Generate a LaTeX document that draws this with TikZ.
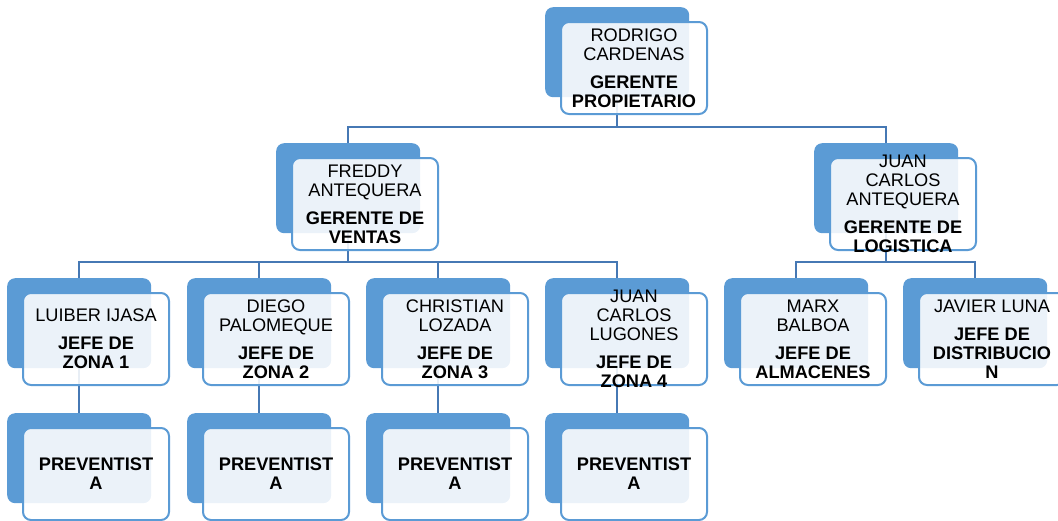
\documentclass[tikz,border=0pt]{standalone}
\usepackage{fontspec}
\setmainfont{Liberation Sans}
\usetikzlibrary{calc}
\definecolor{accent}{RGB}{91,155,213}
\definecolor{connc}{RGB}{70,120,180}
\tikzset{
  backbox/.style={draw=none, fill=accent, rounded corners=8pt, minimum width=144pt, minimum height=90pt, anchor=north west, inner sep=0pt},
  frontbox/.style={draw=accent, line width=2pt, fill=white, fill opacity=0.88, rounded corners=8pt, minimum width=146pt, minimum height=92pt, anchor=north west, inner sep=0pt},
  lbl/.style={align=center, font=\fontsize{18.2}{19}\selectfont, inner sep=0pt, text=black},
  conn/.style={draw=connc, line width=2pt},
}
\begin{document}
\begin{tikzpicture}[x=1pt,y=-1pt]
\useasboundingbox (0,0) rectangle (1058,520);
\clip (0,0) rectangle (1058,520);
% back boxes
\node[backbox] (rb) at (545,7) {};
\node[backbox] (fb) at (276,143) {};
\node[backbox] (jb) at (814,143) {};
\node[backbox] (z1b) at (7,278) {};
\node[backbox] (z2b) at (187,278) {};
\node[backbox] (z3b) at (366,278) {};
\node[backbox] (z4b) at (545,278) {};
\node[backbox] (ab) at (724,278) {};
\node[backbox] (db) at (903,278) {};
\node[backbox] (p1b) at (7,413) {};
\node[backbox] (p2b) at (187,413) {};
\node[backbox] (p3b) at (366,413) {};
\node[backbox] (p4b) at (545,413) {};
% connectors
\draw[conn] (rb.south) -- ++(0,30) -| (fb.north);
\draw[conn] (rb.south) -- ++(0,30) -| (jb.north);
\draw[conn] (fb.south) -- ++(0,29) -| (z1b.north);
\draw[conn] (fb.south) -- ++(0,29) -| (z2b.north);
\draw[conn] (fb.south) -- ++(0,29) -| (z3b.north);
\draw[conn] (fb.south) -- ++(0,29) -| (z4b.north);
\draw[conn] (jb.south) -- ++(0,29) -| (ab.north);
\draw[conn] (jb.south) -- ++(0,29) -| (db.north);
\draw[conn] (z1b.south) -- (p1b.north);
\draw[conn] (z2b.south) -- (p2b.north);
\draw[conn] (z3b.south) -- (p3b.north);
\draw[conn] (z4b.south) -- (p4b.north);
% front boxes
\foreach \n in {r,f,j,z1,z2,z3,z4,a,d,p1,p2,p3,p4}{
  \node[frontbox] (\n f) at ($(\n b.north west)+(15,14)$) {};
}
% texts
\node[lbl] (rt) at (rf.center) {RODRIGO\\CARDENAS\\[8.7pt]\textbf{GERENTE}\\\textbf{PROPIETARIO}};
\node[lbl] (ft) at (ff.center) {FREDDY\\ANTEQUERA\\[8.7pt]\textbf{GERENTE DE}\\\textbf{VENTAS}};
\node[lbl] (jt) at (jf.center) {JUAN\\CARLOS\\ANTEQUERA\\[8.7pt]\textbf{GERENTE DE}\\\textbf{LOGISTICA}};
\node[lbl] (z1t) at (z1f.center) {LUIBER IJASA\\[8.7pt]\textbf{JEFE DE}\\\textbf{ZONA 1}};
\node[lbl] (z2t) at (z2f.center) {DIEGO\\PALOMEQUE\\[8.7pt]\textbf{JEFE DE}\\\textbf{ZONA 2}};
\node[lbl] (z3t) at (z3f.center) {CHRISTIAN\\LOZADA\\[8.7pt]\textbf{JEFE DE}\\\textbf{ZONA 3}};
\node[lbl] (z4t) at (z4f.center) {JUAN\\CARLOS\\LUGONES\\[8.7pt]\textbf{JEFE DE}\\\textbf{ZONA 4}};
\node[lbl] (at) at (af.center) {MARX\\BALBOA\\[8.7pt]\textbf{JEFE DE}\\\textbf{ALMACENES}};
\node[lbl] (dt) at (df.center) {JAVIER LUNA\\[8.7pt]\textbf{JEFE DE}\\\textbf{DISTRIBUCIO}\\\textbf{N}};
\node[lbl] (p1t) at (p1f.center) {\textbf{PREVENTIST}\\\textbf{A}};
\node[lbl] (p2t) at (p2f.center) {\textbf{PREVENTIST}\\\textbf{A}};
\node[lbl] (p3t) at (p3f.center) {\textbf{PREVENTIST}\\\textbf{A}};
\node[lbl] (p4t) at (p4f.center) {\textbf{PREVENTIST}\\\textbf{A}};
\end{tikzpicture}
\end{document}
